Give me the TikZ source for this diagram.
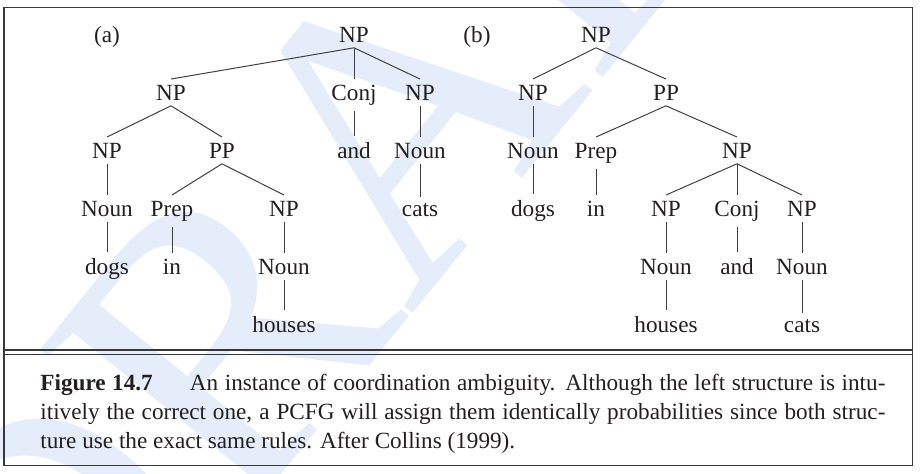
\documentclass[tikz,border=0pt]{standalone}
\usepackage{fontspec}
\setmainfont{Liberation Serif}
\definecolor{wmblue}{RGB}{229,236,250}
\definecolor{ink}{RGB}{35,31,32}
\begin{document}
\begin{tikzpicture}[x=0.5pt,y=-0.5pt,
    lbl/.style={anchor=base,inner sep=2.7pt,text=ink,font=\fontsize{11.6}{14}\selectfont},
    br/.style={draw=black!75,line width=0.5pt},
    frm/.style={draw=black!78,line width=0.65pt}]
  \useasboundingbox (0,0) rectangle (921,473);
  % watermark
  \begin{scope}
    \clip (0,0) rectangle (921,473);
    \node[anchor=base west,rotate=51,inner sep=0pt,text=wmblue,
      font=\fontsize{203}{203}\selectfont] (wm) at (55,755) {DRAFT};
  \end{scope}
  % tree (a)
  \node[lbl] (la) at (107,42) {(a)};
  \node[lbl] (a0) at (354,42) {NP};
  \node[lbl] (a1) at (171,100) {NP};
  \node[lbl] (a2) at (354,100) {Conj};
  \node[lbl] (a3) at (420,100) {NP};
  \node[lbl] (a4) at (107,158) {NP};
  \node[lbl] (a5) at (222,158) {PP};
  \node[lbl] (a6) at (354,158) {and};
  \node[lbl] (a7) at (420,158) {Noun};
  \node[lbl] (a8) at (107,216) {Noun};
  \node[lbl] (a9) at (172,216) {Prep};
  \node[lbl] (a10) at (284,216) {NP};
  \node[lbl] (a11) at (420,216) {cats};
  \node[lbl] (a12) at (107,274) {dogs};
  \node[lbl] (a13) at (172,274) {in};
  \node[lbl] (a14) at (284,274) {Noun};
  \node[lbl] (a15) at (284,332) {houses};
  \foreach \p/\c in {a0/a1,a0/a2,a0/a3,a1/a4,a1/a5,a2/a6,a3/a7,a4/a8,
      a5/a9,a5/a10,a7/a11,a8/a12,a9/a13,a10/a14,a14/a15}
    \draw[br] (\p.south) -- (\c.north);
  % tree (b)
  \node[lbl] (lb) at (477,42) {(b)};
  \node[lbl] (b0) at (596,42) {NP};
  \node[lbl] (b1) at (533,100) {NP};
  \node[lbl] (b2) at (666,100) {PP};
  \node[lbl] (b3) at (533,158) {Noun};
  \node[lbl] (b4) at (596,158) {Prep};
  \node[lbl] (b5) at (737,158) {NP};
  \node[lbl] (b6) at (533,216) {dogs};
  \node[lbl] (b7) at (596,216) {in};
  \node[lbl] (b8) at (666,216) {NP};
  \node[lbl] (b9) at (737,216) {Conj};
  \node[lbl] (b10) at (802,216) {NP};
  \node[lbl] (b11) at (666,274) {Noun};
  \node[lbl] (b12) at (737,274) {and};
  \node[lbl] (b13) at (802,274) {Noun};
  \node[lbl] (b14) at (666,332) {houses};
  \node[lbl] (b15) at (802,332) {cats};
  \foreach \p/\c in {b0/b1,b0/b2,b1/b3,b3/b6,b2/b4,b2/b5,b4/b7,b5/b8,
      b5/b9,b5/b10,b8/b11,b9/b12,b10/b13,b11/b14,b13/b15}
    \draw[br] (\p.south) -- (\c.north);
  % frame and caption
  \draw[frm] (4,7.3) rectangle (912.7,465.7);
  \draw[frm] (4,350) -- (912.7,350);
  \draw[frm] (4,354.3) -- (912.7,354.3);
  \node[anchor=base west,inner sep=0pt,text width=422.5pt,align=justify,text=ink,
    font=\fontsize{11.6}{14.35}\selectfont] (cap) at (40,390.7)
    {\textbf{Figure 14.7}\hspace{1.6em}An instance of coordination ambiguity. Although the left structure is intu-\linebreak
     itively the correct one, a PCFG will assign them identically probabilities since both struc-\linebreak
     ture use the exact same rules. After Collins (1999).};
\end{tikzpicture}
\end{document}
